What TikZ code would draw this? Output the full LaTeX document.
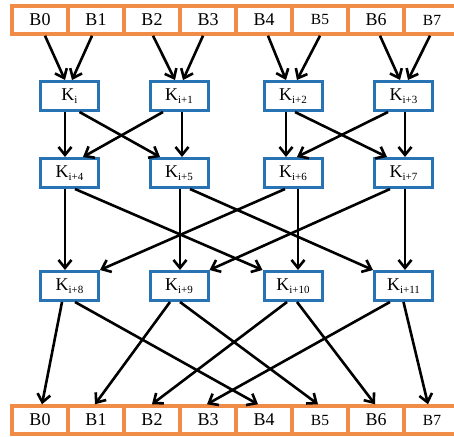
\documentclass[tikz,border=0pt]{standalone}
\usepackage{fontspec}
\setmainfont{Liberation Serif}
\usetikzlibrary{arrows.meta,calc}
\definecolor{bord}{RGB}{240,140,70}
\definecolor{kblue}{RGB}{40,115,180}
\tikzset{
 cell/.style={draw=bord,line width=3.5pt,minimum width=56pt,minimum height=28pt,inner sep=0pt,font=\fontsize{18}{18}\selectfont},
 kbox/.style={draw=kblue,line width=3pt,minimum width=58pt,minimum height=29pt,inner sep=0pt,font=\fontsize{18}{18}\selectfont},
 arr/.style={line width=2.6pt,-{Straight Barb[length=8pt,width=13pt]}}
}
\newcommand{\kk}[1]{K\raisebox{-3pt}{\fontsize{11}{11}\selectfont #1}}
\newcommand{\smallb}[1]{{\fontsize{15.5}{15.5}\selectfont #1}}
\begin{document}
\begin{tikzpicture}[x=1pt,y=-1pt]
\useasboundingbox (0,0) rectangle (454,436);
% top row
\node[cell] (t0) at (40,20) {B0};
\node[cell] (t1) at (96,20) {B1};
\node[cell] (t2) at (152,20) {B2};
\node[cell] (t3) at (208,20) {B3};
\node[cell] (t4) at (264,20) {B4};
\node[cell] (t5) at (320,20) {\smallb{B5}};
\node[cell] (t6) at (376,20) {B6};
\node[cell] (t7) at (432,20) {\smallb{B7}};
% bottom row
\node[cell] (b0) at (40,420) {B0};
\node[cell] (b1) at (96,420) {B1};
\node[cell] (b2) at (152,420) {B2};
\node[cell] (b3) at (208,420) {B3};
\node[cell] (b4) at (264,420) {B4};
\node[cell] (b5) at (320,420) {\smallb{B5}};
\node[cell] (b6) at (376,420) {B6};
\node[cell] (b7) at (432,420) {\smallb{B7}};
% K boxes
\node[kbox] (k0) at (69.5,96) {\kk{i}};
\node[kbox] (k1) at (179,96) {\kk{i+1}};
\node[kbox] (k2) at (293,96) {\kk{i+2}};
\node[kbox] (k3) at (403.5,96) {\kk{i+3}};
\node[kbox] (k4) at (69.5,173) {\kk{i+4}};
\node[kbox] (k5) at (179,173) {\kk{i+5}};
\node[kbox] (k6) at (293,173) {\kk{i+6}};
\node[kbox] (k7) at (403.5,173) {\kk{i+7}};
\node[kbox] (k8) at (69.5,286) {\kk{i+8}};
\node[kbox] (k9) at (179,286) {\kk{i+9}};
\node[kbox] (k10) at (293,286) {\kk{i+10}};
\node[kbox] (k11) at (403.5,286) {\kk{i+11}};
% top -> row 1
\draw[arr] ($(t0.south)+(5,0)$) -- ($(k0.north)+(-4.5,0)$);
\draw[arr] ($(t1.south)+(-4,0)$) -- ($(k0.north)+(2.5,0)$);
\draw[arr] ($(t2.south)+(1,0)$) -- ($(k1.north)+(-4,0)$);
\draw[arr] ($(t3.south)+(-5,0)$) -- ($(k1.north)+(4,0)$);
\draw[arr] ($(t4.south)+(4,0)$) -- ($(k2.north)+(-7,0)$);
\draw[arr] ($(t5.south)+(0,0)$) -- ($(k2.north)+(4,0)$);
\draw[arr] ($(t6.south)+(4,0)$) -- ($(k3.north)+(-3.5,0)$);
\draw[arr] ($(t7.south)+(-2,0)$) -- ($(k3.north)+(4.5,0)$);
% row 1 -> row 2
\draw[arr] ($(k0.south)+(-4.5,0)$) -- ($(k4.north)+(-4.5,0)$);
\draw[arr] ($(k0.south)+(10,0)$) -- ($(k5.north)+(-19,0)$);
\draw[arr] ($(k1.south)+(-16,0)$) -- ($(k4.north)+(13.5,0)$);
\draw[arr] ($(k1.south)+(3,0)$) -- ($(k5.north)+(3,0)$);
\draw[arr] ($(k2.south)+(-7,0)$) -- ($(k6.north)+(-7,0)$);
\draw[arr] ($(k2.south)+(2,0)$) -- ($(k7.north)+(-16.5,0)$);
\draw[arr] ($(k3.south)+(-15.5,0)$) -- ($(k6.north)+(4,0)$);
\draw[arr] ($(k3.south)+(1.5,0)$) -- ($(k7.north)+(1.5,0)$);
% row 2 -> row 3
\draw[arr] ($(k4.south)+(-4.5,0)$) -- ($(k8.north)+(-4.5,0)$);
\draw[arr] ($(k4.south)+(5.5,0)$) -- (k10.north west);
\draw[arr] ($(k5.south)+(1,0)$) -- ($(k9.north)+(1,0)$);
\draw[arr] ($(k5.south)+(11,0)$) -- (k11.north west);
\draw[arr] ($(k6.south)+(-8,0)$) -- (k8.north east);
\draw[arr] ($(k6.south)+(5,0)$) -- ($(k10.north)+(5,0)$);
\draw[arr] ($(k7.south)+(-13.5,0)$) -- (k9.north east);
\draw[arr] ($(k7.south)+(1.5,0)$) -- ($(k11.north)+(1.5,0)$);
% row 3 -> bottom
\draw[arr] ($(k8.south)+(-7.5,0)$) -- ($(b0.north)+(2,0)$);
\draw[arr] ($(k8.south)+(5.5,0)$) -- ($(b4.north)+(-6,0)$);
\draw[arr] ($(k9.south)+(-9,0)$) -- ($(b1.north)+(-1,0)$);
\draw[arr] ($(k9.south)+(1,0)$) -- ($(b5.north)+(-2,0)$);
\draw[arr] ($(k10.south)+(-6,0)$) -- ($(b2.north)+(0,0)$);
\draw[arr] ($(k10.south)+(4,0)$) -- ($(b6.north)+(-1,0)$);
\draw[arr] ($(k11.south)+(-13.5,0)$) -- ($(b3.north)+(-1,0)$);
\draw[arr] ($(k11.south)+(0,0)$) -- ($(b7.north)+(-4,0)$);
\end{tikzpicture}
\end{document}
